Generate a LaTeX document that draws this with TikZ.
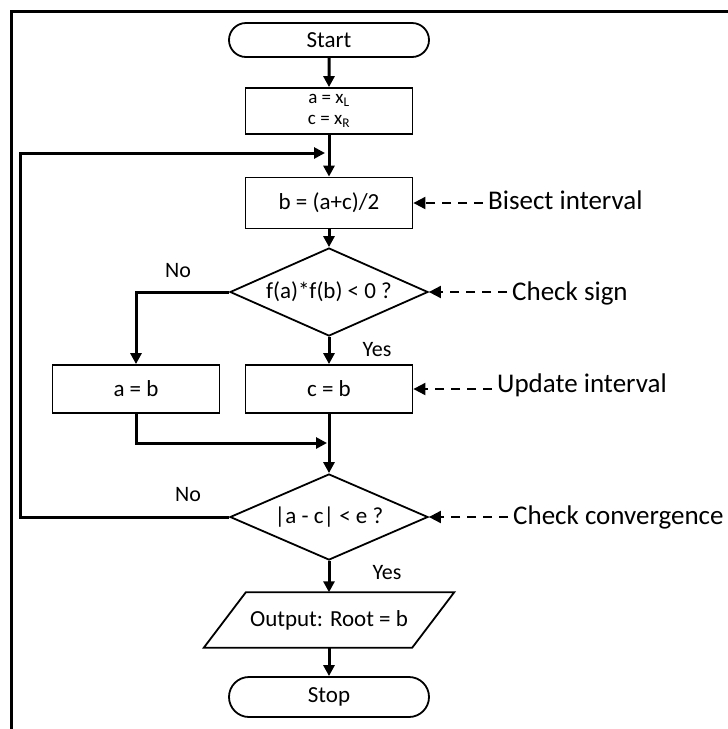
\documentclass[tikz,border=0pt]{standalone}
\usepackage{fontspec}
\setmainfont{Carlito}
\usetikzlibrary{arrows.meta,shapes.geometric,shapes.misc}
\begin{document}
\begin{tikzpicture}[x=1pt,y=-1pt,
  box/.style={draw, line width=1.8pt, minimum width=167pt, minimum height=48pt, inner sep=0pt,
    font=\fontsize{23}{23}\selectfont, align=center},
  term/.style={draw, line width=1.8pt, rounded rectangle, minimum width=200pt, minimum height=34pt,
    inner sep=0pt, font=\fontsize{23}{23}\selectfont},
  dec/.style={draw, line width=1.8pt, diamond, aspect=2.25, minimum width=198pt, minimum height=88pt,
    inner sep=0pt, font=\fontsize{23}{23}\selectfont},
  lab/.style={inner sep=0pt, font=\fontsize{27}{30}\selectfont},
  yn/.style={inner sep=0pt, font=\fontsize{22}{23}\selectfont},
  flow/.style={line width=3pt, -{Triangle[length=11pt,width=11pt]}},
  note/.style={line width=2pt, dash pattern=on 9pt off 7pt, -{Triangle[length=12pt,width=12pt]}}
]
\useasboundingbox (0,0) rectangle (728,729);
% frame
\draw[line width=3pt] (11,729) -- (11,11) -- (729,11);

% nodes
\node[term] (start) at (329,40) {Start};
\node[box, minimum height=46pt, font=\fontsize{19}{22}\selectfont] (init) at (329,111) {a = x\textsubscript{L}\\[-1pt]c = x\textsubscript{R}};
\coordinate (join) at (329,153);
\node[box, minimum height=51pt] (bis) at (329,203) {b = (a+c)/2};
\node[dec] (d1) at (329,292) {f(a)*f(b) < 0 ?};
\node[box] (cb) at (329,389) {c = b};
\node[box] (ab) at (136,389) {a = b};
\coordinate (merge) at (329,443);
\node[dec, minimum height=86pt] (d2) at (329,517) {|a - c| < e ?};
\node[inner sep=0pt, minimum width=208pt, minimum height=55pt, font=\fontsize{23}{23}\selectfont] (out) at (329,620) {Output: Root = b};
\draw[line width=1.8pt] ([xshift=21pt]out.north west) -- ([xshift=21pt]out.north east)
  -- ([xshift=-21pt]out.south east) -- ([xshift=-21pt]out.south west) -- cycle;
\node[term, minimum height=40pt] (stop) at (329,697) {Stop};
\coordinate (loopc) at (20,153);

% connectors
\draw[flow] (start) -- (init);
\draw[flow] (init) -- (bis);
\draw[flow] (bis) -- (d1);
\draw[flow] (d1) -- (cb);
\draw[flow] (d1.west) -| (ab.north);
\draw[flow] (cb) -- (d2);
\draw[flow] (ab.south) |- ([xshift=-2pt]merge);
\draw[flow] (d2) -- (out);
\draw[flow] (out) -- (stop);
\draw[flow, shorten >=4pt] (d2.west) -| (loopc) -- (join);

% yes / no
\node[yn] (no1) at (178,271) {No};
\node[yn] (yes1) at (377,350) {Yes};
\node[yn] (no2) at (188,495) {No};
\node[yn] (yes2) at (387,573) {Yes};

% side notes
\node[lab, anchor=west] (l1) at (488,200) {Bisect interval};
\node[lab, anchor=west] (l2) at (512,293) {Check sign};
\node[lab, anchor=west] (l3) at (497,385) {Update interval};
\node[lab, anchor=west] (l4) at (513,517) {Check convergence};
\draw[note, shorten <=5pt] (bis.east -| l1.west) -- (bis.east);
\draw[note, shorten <=5pt] (d1.east -| l2.west) -- (d1.east);
\draw[note, shorten <=5pt] (cb.east -| l3.west) -- (cb.east);
\draw[note, shorten <=5pt] (d2.east -| l4.west) -- (d2.east);
\end{tikzpicture}
\end{document}
